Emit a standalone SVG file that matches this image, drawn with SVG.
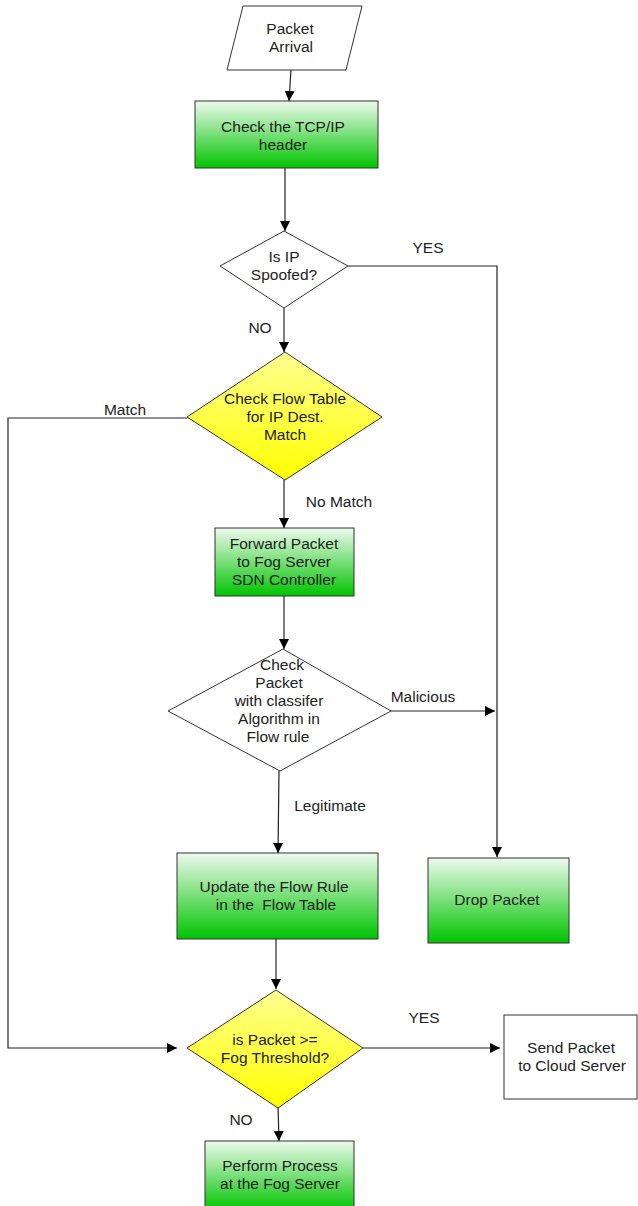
<svg xmlns="http://www.w3.org/2000/svg" width="638" height="1206" viewBox="0 0 638 1206">
<defs>
<linearGradient id="g" x1="0" y1="0" x2="0" y2="1">
<stop offset="0" stop-color="#eefaee"/>
<stop offset="1" stop-color="#00c400"/>
</linearGradient>
<linearGradient id="y" x1="0" y1="0" x2="0" y2="1">
<stop offset="0" stop-color="#ffff90"/>
<stop offset="1" stop-color="#ffff00"/>
</linearGradient>
<marker id="a" viewBox="0 0 10 10" refX="10" refY="5" markerWidth="10" markerHeight="10" markerUnits="userSpaceOnUse" orient="auto">
<path d="M0,0 L10,5 L0,10 z" fill="#000"/>
</marker>
</defs>
<style>
.n{stroke:#333;stroke-width:1}
.g{fill:url(#g)}
.yl{fill:url(#y)}
.w{fill:#fff}
text{font-family:"Liberation Sans",Arial,sans-serif;font-size:15.5px;fill:#222;text-anchor:middle}
.c{fill:none;stroke:#222;stroke-width:1.2}
.ca{fill:none;stroke:#222;stroke-width:1.2;marker-end:url(#a)}
</style>
<rect width="638" height="1206" fill="#fff"/>
<g id="connectors">
<path class="ca" d="M291,70 L289,101"/>
<path class="ca" d="M285,168 L285,231"/>
<path class="ca" d="M348,266 L497,266 L497,857"/>
<path class="ca" d="M284,308 L284,352"/>
<path class="ca" d="M187,418 L8,418 L8,1048 L177,1048"/>
<path class="ca" d="M284,480 L284,528"/>
<path class="ca" d="M284,596 L284,649"/>
<path class="ca" d="M391,711 L495,711"/>
<path class="ca" d="M279,771 L278,853"/>
<path class="ca" d="M276,939 L276,989"/>
<path class="ca" d="M363,1048 L500,1048"/>
<path class="ca" d="M278,1105 L279,1141"/>
<text x="428" y="253">YES</text>
<text x="260" y="333">NO</text>
<text x="125" y="415">Match</text>
<text x="339" y="507">No Match</text>
<text x="423" y="702">Malicious</text>
<text x="330" y="811">Legitimate</text>
<text x="424" y="1023">YES</text>
<text x="241" y="1125">NO</text>
</g>
<g id="n1">
<polygon class="n w" points="243,6 362,6 346,70 227,70"/>
<text x="290" y="34">Packet</text>
<text x="291" y="52">Arrival</text>
</g>
<g id="n2">
<rect class="n g" x="195" y="101" width="183" height="67"/>
<text x="283" y="132">Check the TCP/IP</text>
<text x="283" y="150">header</text>
</g>
<g id="n3">
<polygon class="n w" points="284,231 348,266 284,308 220,266"/>
<text x="284" y="262">Is IP</text>
<text x="284" y="280">Spoofed?</text>
</g>
<g id="n4">
<polygon class="n yl" points="285,352 382,417 285,480 187,417"/>
<text x="285" y="404">Check Flow Table</text>
<text x="285" y="422">for IP Dest.</text>
<text x="285" y="440">Match</text>
</g>
<g id="n5">
<rect class="n g" x="215" y="528" width="139" height="68"/>
<text x="284" y="549">Forward Packet</text>
<text x="284" y="567">to Fog Server</text>
<text x="284" y="585">SDN Controller</text>
</g>
<g id="n6">
<polygon class="n w" points="283,649 391,711 280,771 168,711"/>
<text x="282" y="670">Check</text>
<text x="279" y="688">Packet</text>
<text x="279" y="706">with classifer</text>
<text x="279" y="724">Algorithm in</text>
<text x="278" y="742">Flow rule</text>
</g>
<g id="n7">
<rect class="n g" x="177" y="853" width="201" height="86"/>
<text x="274" y="892">Update the Flow Rule</text>
<text x="276" y="910" xml:space="preserve">in the  Flow Table</text>
</g>
<g id="n8">
<rect class="n g" x="428" y="858" width="141" height="85"/>
<text x="497" y="905">Drop Packet</text>
</g>
<g id="n9">
<polygon class="n yl" points="276,990 363,1048 278,1108 187,1048"/>
<text x="275" y="1045">is Packet &gt;=</text>
<text x="275" y="1063">Fog Threshold?</text>
</g>
<g id="n10">
<rect class="n w" x="504" y="1015" width="133" height="84"/>
<text x="571" y="1053">Send Packet</text>
<text x="572" y="1071">to Cloud Server</text>
</g>
<g id="n11">
<rect class="n g" x="205" y="1141" width="149" height="70"/>
<text x="280" y="1171">Perform Process</text>
<text x="280" y="1189">at the Fog Server</text>
</g>
</svg>
